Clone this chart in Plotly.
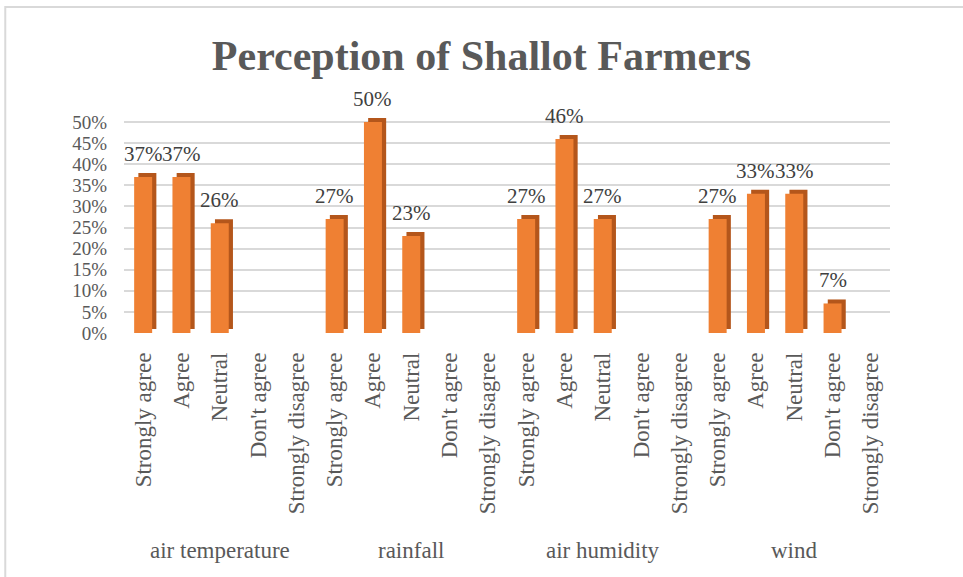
import plotly.graph_objects as go

groups = ["air temperature", "rainfall", "air humidity", "wind"]
responses = ["Strongly agree", "Agree", "Neutral", "Don't agree", "Strongly disagree"]
air_temperature = [0.37, 0.37, 0.26, None, None]
rainfall = [0.27, 0.50, 0.23, None, None]
air_humidity = [0.27, 0.46, 0.27, None, None]
wind = [0.27, 0.33, 0.33, 0.07, None]
y_ticks = [0, 0.05, 0.10, 0.15, 0.20, 0.25, 0.30, 0.35, 0.40, 0.45, 0.50]
y_tick_labels = ["0%", "5%", "10%", "15%", "20%", "25%", "30%", "35%", "40%", "45%", "50%"]

series = [air_temperature, rainfall, air_humidity, wind]
values = [v for s in series for v in s]
labels = [r for _ in groups for r in responses]
xs = list(range(len(values)))

FONT = "Liberation Serif, Times New Roman, serif"
GREY = "#595959"
W = 0.47
DX = 0.11
DY = 0.0095
Y_TOP = 0.512

fig = go.Figure()
# depth (side/top) face
fig.add_trace(go.Bar(
    x=xs, y=values, base=DY, width=W, offset=-W / 2 + DX,
    marker=dict(color="#B4561B", line=dict(width=0)),
    hoverinfo="skip", showlegend=False,
))
# front face
fig.add_trace(go.Bar(
    x=xs, y=values, width=W, offset=-W / 2,
    marker=dict(color="#EF8033", line=dict(width=0)),
    showlegend=False,
))

# data labels
for x, v in zip(xs, values):
    if v is None:
        continue
    fig.add_annotation(
        x=x, xref="x", y=v, yref="y", text=f"{round(v * 100)}%",
        showarrow=False, yanchor="bottom", yshift=9,
        font=dict(family=FONT, size=21, color="#404040"),
    )

plot_h = 577 - 117 - 244
for i, g in enumerate(groups):
    center = i * len(responses) + (len(responses) - 1) / 2
    fig.add_annotation(
        x=center, xref="x", y=-(550 - 333) / plot_h, yref="paper", text=g,
        showarrow=False, font=dict(family=FONT, size=23, color=GREY),
        yanchor="middle",
    )

fig.add_shape(type="rect", xref="paper", yref="paper",
              x0=-0.155, x1=2.0, y0=-3.0, y1=(333 - 7) / plot_h,
              line=dict(color="#D9D9D9", width=2), layer="below")

fig.update_layout(
    width=963, height=577,
    margin=dict(l=124, r=73, t=117, b=244),
    paper_bgcolor="white", plot_bgcolor="white",
    barmode="overlay",
    title=dict(text="<b>Perception of Shallot Farmers</b>", x=0.5, xref="container",
               xanchor="center", y=1 - 55 / 577, yanchor="middle",
               font=dict(family=FONT, size=42, color=GREY)),
    xaxis=dict(range=[-0.5, len(values) - 0.5], tickmode="array", tickvals=xs,
               ticktext=labels, tickangle=-90, showgrid=False, zeroline=False,
               showline=False, ticks="", ticklabelstandoff=14,
               tickfont=dict(family=FONT, size=23, color=GREY)),
    yaxis=dict(range=[0, Y_TOP], tickmode="array", tickvals=y_ticks,
               ticktext=y_tick_labels, showgrid=True, gridcolor="#D9D9D9",
               gridwidth=2, zeroline=False, showline=False, ticks="",
               ticklabelstandoff=16,
               tickfont=dict(family=FONT, size=19, color=GREY)),
)

fig.write_html("out.html")
